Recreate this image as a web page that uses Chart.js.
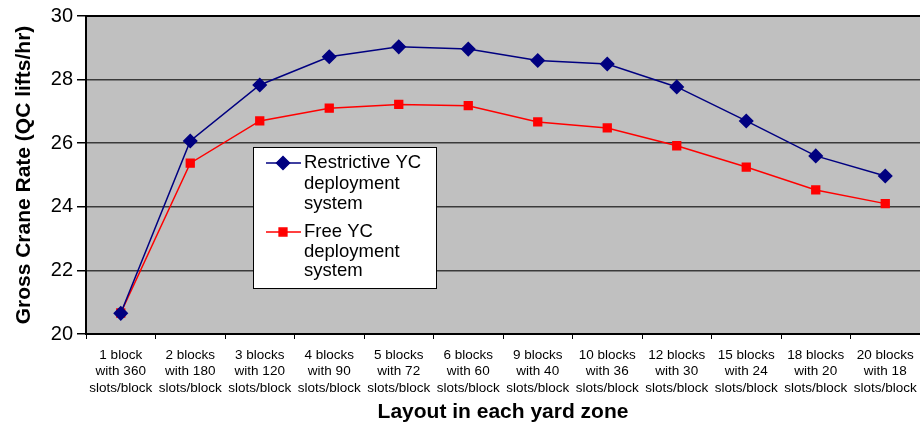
<!DOCTYPE html>
<html>
<head>
<meta charset="utf-8">
<script src="https://cdn.jsdelivr.net/npm/chart.js@4.4.0/dist/chart.umd.min.js"></script>
<style>
  html, body { margin: 0; padding: 0; background: #fff; }
  #wrap { width: 920px; height: 425px; }
</style>
</head>
<body>
<div id="wrap"><canvas id="craneChart" width="920" height="425"></canvas></div>
<script>
// --- Data ---
const layouts = [
  ["1 block", "with 360", "slots/block"],
  ["2 blocks", "with 180", "slots/block"],
  ["3 blocks", "with 120", "slots/block"],
  ["4 blocks", "with 90", "slots/block"],
  ["5 blocks", "with 72", "slots/block"],
  ["6 blocks", "with 60", "slots/block"],
  ["9 blocks", "with 40", "slots/block"],
  ["10 blocks", "with 36", "slots/block"],
  ["12 blocks", "with 30", "slots/block"],
  ["15 blocks", "with 24", "slots/block"],
  ["18 blocks", "with 20", "slots/block"],
  ["20 blocks", "with 18", "slots/block"]
];
const restrictiveRate = [20.65, 26.07, 27.83, 28.72, 29.03, 28.96, 28.6, 28.49, 27.77, 26.7, 25.6, 24.97];
const freeRate = [20.66, 25.37, 26.7, 27.1, 27.22, 27.18, 26.67, 26.48, 25.92, 25.25, 24.53, 24.1];
const restrictiveLabel = ["Restrictive YC", "deployment", "system"];
const freeLabel = ["Free YC", "deployment", "system"];

const FONT = "'Liberation Sans', Arial, sans-serif";

// grey plot background + black frame
const plotFrame = {
  id: "plotFrame",
  beforeDraw(chart) {
    const { ctx, chartArea: a } = chart;
    ctx.save();
    ctx.fillStyle = "#c0c0c0";
    ctx.fillRect(a.left, a.top, a.right - a.left, a.bottom - a.top);
    ctx.restore();
  },
  afterDatasetsDraw(chart) {
    const { ctx, chartArea: a } = chart;
    ctx.save();
    ctx.strokeStyle = "#000";
    ctx.lineWidth = 2;
    ctx.beginPath();
    ctx.moveTo(a.right + 2, a.top);
    ctx.lineTo(a.left, a.top);
    ctx.lineTo(a.left, a.bottom);
    ctx.lineTo(a.right + 2, a.bottom);
    ctx.stroke();
    ctx.restore();
  }
};

// boxed legend with wrapped entries
const boxLegend = {
  id: "boxLegend",
  afterDraw(chart) {
    const ctx = chart.ctx;
    const x = 253, y = 147, w = 183, h = 141;
    ctx.save();
    ctx.fillStyle = "#fff";
    ctx.fillRect(x, y, w, h);
    ctx.strokeStyle = "#000";
    ctx.lineWidth = 1;
    ctx.strokeRect(x + 0.5, y + 0.5, w, h);

    const entries = [
      { lines: restrictiveLabel, ds: chart.data.datasets[0], top: 163, gap: 20.5 },
      { lines: freeLabel, ds: chart.data.datasets[1], top: 232, gap: 19.5 }
    ];
    entries.forEach(e => {
      ctx.strokeStyle = e.ds.borderColor;
      ctx.fillStyle = e.ds.backgroundColor;
      ctx.lineWidth = 1.5;
      ctx.beginPath();
      ctx.moveTo(266, e.top);
      ctx.lineTo(301, e.top);
      ctx.stroke();
      Chart.helpers.drawPoint(ctx, {
        pointStyle: e.ds.pointStyle,
        radius: e.ds.pointRadius,
        borderWidth: 1
      }, 283, e.top);
      ctx.fillStyle = "#000";
      ctx.font = "18.5px " + FONT;
      ctx.textBaseline = "middle";
      e.lines.forEach((t, i) => ctx.fillText(t, 304, e.top + i * e.gap));
    });
    ctx.restore();
  }
};

const ctx = document.getElementById("craneChart").getContext("2d");
const chart = new Chart(ctx, {
  type: "line",
  data: {
    labels: layouts,
    datasets: [
      {
        label: "Restrictive YC deployment system",
        data: restrictiveRate,
        borderColor: "#000080",
        backgroundColor: "#000080",
        borderWidth: 1.5,
        pointStyle: "rectRot",
        pointRadius: 6.5,
        pointHoverRadius: 6.5,
        tension: 0
      },
      {
        label: "Free YC deployment system",
        data: freeRate,
        borderColor: "#ff0000",
        backgroundColor: "#ff0000",
        borderWidth: 1.5,
        pointStyle: "rect",
        pointRadius: 5.5,
        pointHoverRadius: 5.5,
        tension: 0
      }
    ]
  },
  options: {
    responsive: false,
    animation: false,
    layout: { autoPadding: false, padding: { top: 16, left: 0, right: 0, bottom: 0 } },
    plugins: {
      legend: { display: false },
      tooltip: { enabled: false }
    },
    scales: {
      x: {
        offset: true,
        border: { display: false },
        grid: {
          offset: true,
          drawOnChartArea: false,
          tickLength: 5,
          tickColor: "#000",
          lineWidth: 1
        },
        ticks: {
          color: "#000",
          font: { family: FONT, size: 13.5, lineHeight: 1.22 },
          maxRotation: 0,
          autoSkip: false,
          padding: 8
        },
        title: {
          display: true,
          text: "Layout in each yard zone",
          color: "#000",
          font: { family: FONT, size: 21, weight: "bold" },
          padding: { top: 4, bottom: 0 }
        },
        afterFit(scale) {
          scale.height = 91;
          scale.paddingLeft = 0;
          scale.paddingRight = 0;
        }
      },
      y: {
        min: 20,
        max: 30,
        border: { display: false },
        grid: {
          color: "#3a3a3a",
          lineWidth: 1.5,
          tickColor: "#000",
          tickLength: 9
        },
        ticks: {
          stepSize: 2,
          color: "#000",
          font: { family: FONT, size: 20 },
          padding: 4
        },
        title: {
          display: true,
          text: "Gross Crane Rate (QC lifts/hr)",
          color: "#000",
          font: { family: FONT, size: 21, weight: "bold" },
          padding: { top: 12, bottom: 4 }
        },
        afterFit(scale) { scale.width = 86; }
      }
    }
  },
  plugins: [plotFrame, boxLegend]
});
</script>
</body>
</html>
